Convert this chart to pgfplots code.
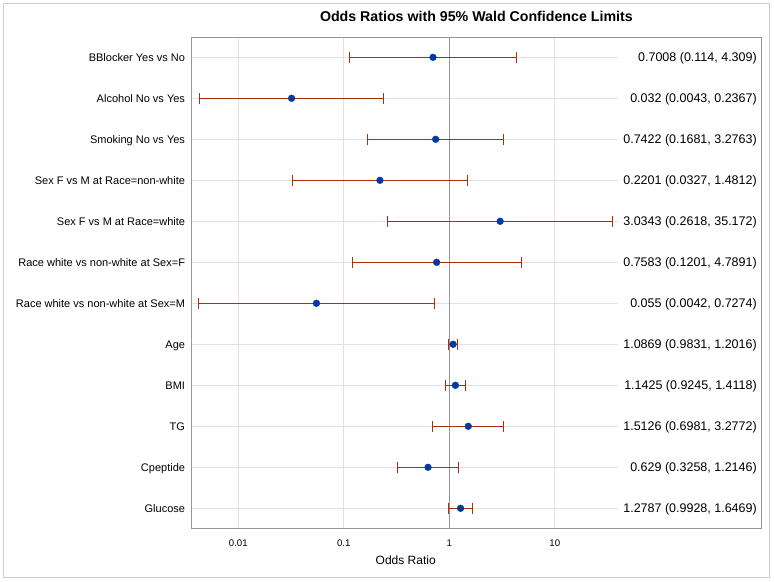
\documentclass[border=0pt]{standalone}
\usepackage{fontspec}
\setmainfont{Liberation Sans}
\usepackage{pgfplots}
\usepackage{pgfplotstable}
\pgfplotsset{compat=1.18}
\definecolor{errc}{RGB}{165,50,10}
\definecolor{markc}{RGB}{5,55,165}
\definecolor{gridc}{RGB}{226,226,226}
\definecolor{axc}{RGB}{150,150,150}
\definecolor{framec}{RGB}{205,205,212}

% odds ratio estimates
\pgfplotstableread{
y or
12 0.7008
11 0.032
10 0.7422
9 0.2201
8 3.0343
7 0.7583
6 0.055
5 1.0869
4 1.1425
3 1.5126
2 0.629
1 1.2787
}\ortab

% confidence interval segments
\pgfplotstableread{
x y
0.114 12
4.309 12
nan nan
0.0043 11
0.2367 11
nan nan
0.1681 10
3.2763 10
nan nan
0.0327 9
1.4812 9
nan nan
0.2618 8
35.172 8
nan nan
0.1201 7
4.7891 7
nan nan
0.0042 6
0.7274 6
nan nan
0.9831 5
1.2016 5
nan nan
0.9245 4
1.4118 4
nan nan
0.6981 3
3.2772 3
nan nan
0.3258 2
1.2146 2
nan nan
0.9928 1
1.6469 1
}\citab

% horizontal grid segments
\pgfplotstableread{
x y
0.003616 12
40 12
nan nan
0.003616 11
40 11
nan nan
0.003616 10
40 10
nan nan
0.003616 9
40 9
nan nan
0.003616 8
40 8
nan nan
0.003616 7
40 7
nan nan
0.003616 6
40 6
nan nan
0.003616 5
40 5
nan nan
0.003616 4
40 4
nan nan
0.003616 3
40 3
nan nan
0.003616 2
40 2
nan nan
0.003616 1
40 1
}\gridtab

\pgfplotstableread[col sep=semicolon]{
lx;y;lab
825;12;0.7008 (0.114, 4.309)
825;11;0.032 (0.0043, 0.2367)
825;10;0.7422 (0.1681, 3.2763)
825;9;0.2201 (0.0327, 1.4812)
825;8;3.0343 (0.2618, 35.172)
825;7;0.7583 (0.1201, 4.7891)
825;6;0.055 (0.0042, 0.7274)
825;5;1.0869 (0.9831, 1.2016)
825;4;1.1425 (0.9245, 1.4118)
825;3;1.5126 (0.6981, 3.2772)
825;2;0.629 (0.3258, 1.2146)
825;1;1.2787 (0.9928, 1.6469)
}\labtab

\begin{document}
\begin{tikzpicture}
\path[use as bounding box] (0,0) rectangle (774bp,582bp);
\draw[framec, line width=1bp] (3.5bp,4.5bp) rectangle (769.5bp,578.5bp);
\begin{axis}[
  at={(191.7bp,53.7bp)}, anchor=south west,
  scale only axis, width=569.3bp, height=491bp,
  xmode=log, xmin=0.003616, xmax=900.9,
  ymin=0.512, ymax=12.488,
  clip=false,
  axis line style={axc, line width=1bp},
  major tick length=0pt, minor tick length=0pt,
  xminorticks=false,
  xtick={0.01,0.1,1,10}, xticklabels={0.01,0.1,1,10},
  xmajorgrids, grid style={gridc, line width=1bp},
  ytick={1,2,3,4,5,6,7,8,9,10,11,12},
  yticklabels={{Glucose},{Cpeptide},{TG},{BMI},{Age},{Race white vs non-white at Sex=M},{Race white vs non-white at Sex=F},{Sex F vs M at Race=white},{Sex F vs M at Race=non-white},{Smoking No vs Yes},{Alcohol No vs Yes},{BBlocker Yes vs No}},
  /pgf/number format/assume math mode=true,
  xticklabel style={font=\fontsize{9.6bp}{11bp}\selectfont, anchor=base, inner sep=0pt, yshift=-18.4bp},
  yticklabel style={font=\fontsize{11bp}{12bp}\selectfont, anchor=base east, inner sep=0pt, xshift=-6.5bp, yshift=-3.9bp},
  title={Odds Ratios with 95\% Wald Confidence Limits},
  title style={font=\bfseries\fontsize{14.2bp}{16bp}\selectfont, at={(0.5,1)}, anchor=base, inner sep=0pt, yshift=10.3bp},
  xlabel={Odds Ratio},
  xlabel style={font=\fontsize{12bp}{14bp}\selectfont, at={(rel axis cs:0.3759,0)}, anchor=base, inner sep=0pt, yshift=-35.7bp},
]
\addplot[gridc, line width=1bp, unbounded coords=jump, forget plot] table[x=x,y=y] {\gridtab};
\addplot[axc, line width=1bp, forget plot] coordinates {(1,0.512) (1,12.488)};
\addplot[errc, line width=1bp, unbounded coords=jump, mark=|, mark size=5.3bp, mark options={solid, line width=1bp}] table[x=x,y=y] {\citab};
\addplot[only marks, mark=*, mark size=3.4bp, mark options={fill=markc, draw=markc}] table[x=or,y=y] {\ortab};
\addplot[draw=none, mark=none, nodes near coords, point meta=explicit symbolic,
  nodes near coords style={anchor=base east, inner sep=0pt, yshift=-4.4bp, font=\fontsize{12.5bp}{14bp}\selectfont, text=black}]
  table[x=lx, y=y, meta=lab] {\labtab};
\end{axis}
\end{tikzpicture}
\end{document}
